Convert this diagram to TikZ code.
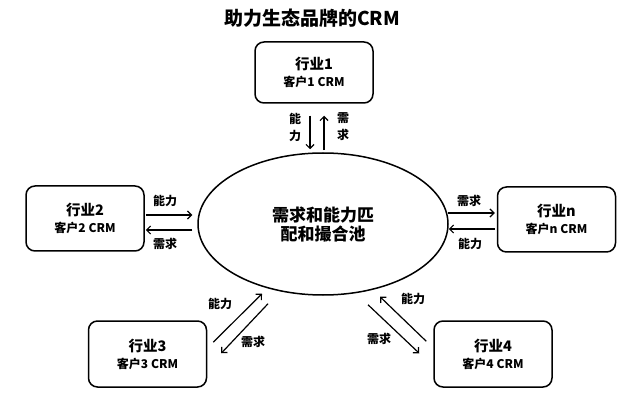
\documentclass[tikz,border=0pt]{standalone}
\usepackage{fontspec}
\usepackage{tikz}
\usetikzlibrary{shapes,arrows.meta,positioning}
\newfontfamily\cjk{Noto Sans CJK SC}

\begin{document}
\begin{tikzpicture}[x=1pt,y=-1pt,
	>={Straight Barb[length=4pt,width=8pt]},
	ind/.style={draw,line width=1.5pt,rounded corners=9pt,minimum width=118pt,
		minimum height=64pt,align=center,font=\cjk\bfseries\fontsize{12}{15}\selectfont},
	flow/.style={->,line width=1.2pt},
	lbl/.style={font=\cjk\bfseries\fontsize{12}{17}\selectfont,align=center,inner sep=0pt}]
	\useasboundingbox (0,0) rectangle (642,403);
	\node[font=\cjk\bfseries\fontsize{19}{21}\selectfont] (title) at (312,18) {助力生态品牌的CRM};
	\node[draw,ellipse,line width=1.5pt,minimum width=250pt,minimum height=142pt,inner sep=0pt,
		align=center,font=\cjk\bfseries\fontsize{17}{19}\selectfont] (pool) at (323,224)
		{需求和能力匹\\配和撮合池};
	\node[ind,minimum height=61pt] (b1) at (314,72.5) {{\fontsize{14.5}{17}\selectfont 行业1}\\[2pt]客户1 CRM};
	\node[ind,minimum height=65pt] (b2) at (85,218.5) {{\fontsize{14.5}{17}\selectfont 行业2}\\[2pt]客户2 CRM};
	\node[ind,minimum height=65pt] (bn) at (556.5,219.5) {{\fontsize{14.5}{17}\selectfont 行业n}\\[2pt]客户n CRM};
	\node[ind,minimum height=66pt] (b3) at (147.5,354) {{\fontsize{14.5}{17}\selectfont 行业3}\\[2pt]客户3 CRM};
	\node[ind,minimum height=66pt] (b4) at (493,354) {{\fontsize{14.5}{17}\selectfont 行业4}\\[2pt]客户4 CRM};

	\draw[flow] ([shift={(-4,12)}]b1.south) -- ([shift={(-13,-3)}]pool.north);
	\draw[flow] ([shift={(1,-2)}]pool.north) -- ([shift={(10,12)}]b1.south);
	\node[lbl] (l1a) at (295,127) {能\\力};
	\node[lbl] (l1b) at (343,127) {需\\求};

	\draw[flow] ([shift={(1,-3.5)}]b2.east) -- ([shift={(-5,-9)}]pool.west);
	\draw[flow] ([shift={(-5,6)}]pool.west) -- ([shift={(1,11.5)}]b2.east);
	\node[lbl] (l2a) at (165,201) {能力};
	\node[lbl] (l2b) at (165,244) {需求};

	\draw[flow] ([shift={(-1,-11)}]pool.east) -- ([shift={(-2,-6.5)}]bn.west);
	\draw[flow] ([shift={(-2,9.5)}]bn.west) -- ([shift={(0,5)}]pool.east);
	\node[lbl] (lna) at (469,201) {需求};
	\node[lbl] (lnb) at (470,244) {能力};

	\draw[flow] ([shift={(6,22)}]b3.north east) -- ([shift={(-61,-2)}]pool.south);
	\draw[flow] ([shift={(-55,8)}]pool.south) -- ([shift={(14,33)}]b3.north east);
	\node[lbl] (l3a) at (220,304) {能力};
	\node[lbl] (l3b) at (253,342) {需求};

	\draw[flow] ([shift={(-7,21)}]b4.north west) -- ([shift={(57,1)}]pool.south);
	\draw[flow] ([shift={(45,9)}]pool.south) -- ([shift={(-14,33)}]b4.north west);
	\node[lbl] (l4a) at (413,299) {能力};
	\node[lbl] (l4b) at (379,339) {需求};
\end{tikzpicture}
\end{document}
